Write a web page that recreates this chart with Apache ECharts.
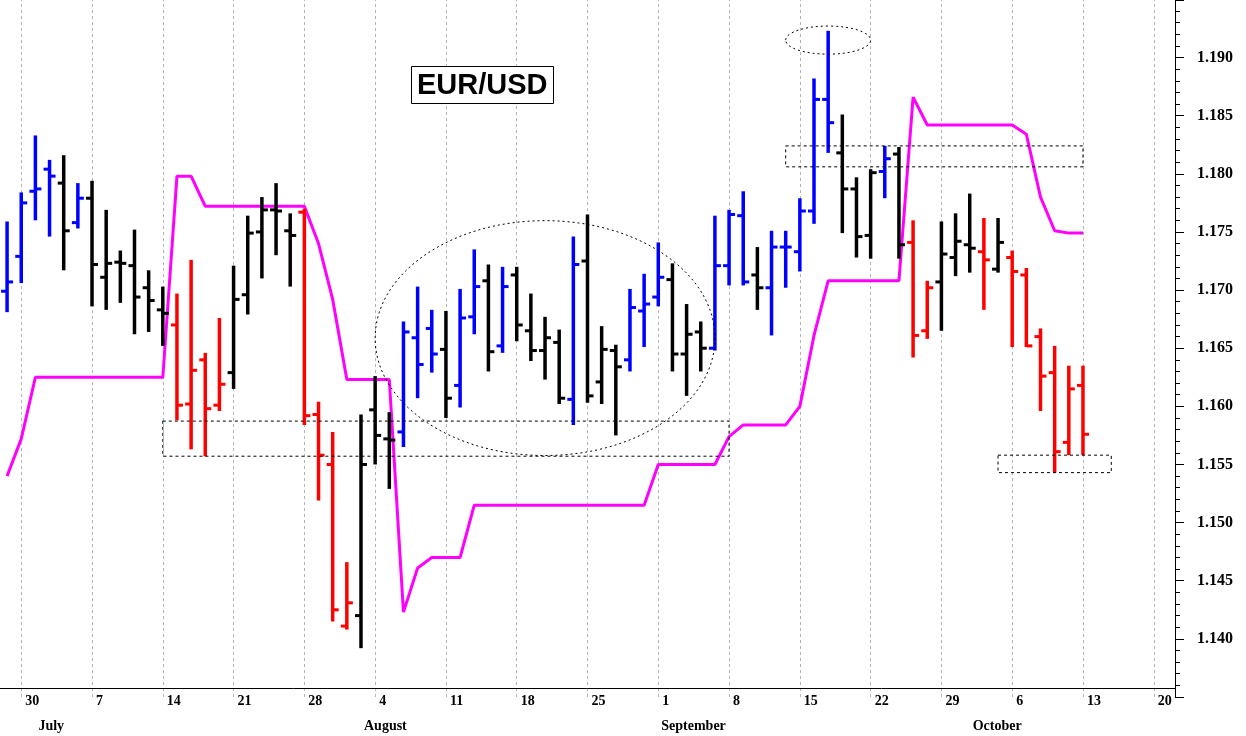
<!DOCTYPE html>
<html><head><meta charset="utf-8">
<script src="https://cdn.jsdelivr.net/npm/echarts@6/dist/echarts.min.js"></script>
<style>html,body{margin:0;padding:0;background:#fff}#c{width:1246px;height:736px}</style>
</head><body><div id="c"></div>
<script>
const dates = ['06-27','06-30','07-01','07-02','07-03','07-04','07-07','07-08','07-09','07-10','07-11','07-14','07-15','07-16','07-17','07-18','07-21','07-22','07-23','07-24','07-25','07-28','07-29','07-30','07-31','08-01','08-04','08-05','08-06','08-07','08-08','08-11','08-12','08-13','08-14','08-15','08-18','08-19','08-20','08-21','08-22','08-25','08-26','08-27','08-28','08-29','09-01','09-02','09-03','09-04','09-05','09-08','09-09','09-10','09-11','09-12','09-15','09-16','09-17','09-18','09-19','09-22','09-23','09-24','09-25','09-26','09-29','09-30','10-01','10-02','10-03','10-06','10-07','10-08','10-09','10-10','10-13','10-14','10-15','10-16','10-17','10-20','10-21'];
const openP  = [1.1699,1.1729,1.1785,1.1804,1.1792,1.1758,1.1779,1.1711,1.1724,1.1721,1.1702,1.1683,1.1670,1.1602,1.1640,1.1601,1.1629,1.1696,1.1750,1.1769,1.1751,1.1767,1.1593,1.1550,1.1411,1.1420,1.1597,1.1572,1.1578,1.1659,1.1667,1.1649,1.1618,1.1677,1.1708,1.1652,1.1713,1.1665,1.1648,1.1655,1.1606,1.1725,1.1621,1.1648,1.1640,1.1682,1.1694,1.1709,1.1645,1.1664,1.1650,1.1721,1.1764,1.1713,1.1702,1.1737,1.1733,1.1768,1.1864,1.1818,1.1787,1.1747,1.1802,1.1817,1.1741,1.1665,1.1707,1.1728,1.1739,1.1733,1.1718,1.1728,1.1713,1.1660,1.1629,1.1569,1.1618];
const closeP = [1.1707,1.1775,1.1787,1.1798,1.1751,1.1779,1.1722,1.1723,1.1723,1.1694,1.1691,1.1680,1.1601,1.1631,1.1598,1.1619,1.1692,1.1749,1.1769,1.1768,1.1747,1.1592,1.1558,1.1425,1.1431,1.1550,1.1575,1.1571,1.1664,1.1636,1.1645,1.1607,1.1676,1.1703,1.1647,1.1703,1.1670,1.1648,1.1659,1.1607,1.1722,1.1609,1.1649,1.1634,1.1685,1.1688,1.1711,1.1645,1.1662,1.1650,1.1721,1.1765,1.1707,1.1702,1.1737,1.1737,1.1768,1.1864,1.1844,1.1787,1.1746,1.1801,1.1813,1.1739,1.1661,1.1702,1.1731,1.1742,1.1736,1.1726,1.1741,1.1716,1.1652,1.1626,1.1561,1.1615,1.1576];
const lowP   = [1.1681,1.1706,1.1760,1.1746,1.1717,1.1753,1.1686,1.1683,1.1689,1.1662,1.1664,1.1652,1.1588,1.1563,1.1557,1.1596,1.1615,1.1679,1.1710,1.1730,1.1703,1.1584,1.1519,1.1415,1.1408,1.1392,1.1550,1.1529,1.1565,1.1607,1.1629,1.1590,1.1599,1.1662,1.1630,1.1646,1.1656,1.1639,1.1623,1.1602,1.1584,1.1603,1.1602,1.1575,1.1630,1.1651,1.1686,1.1630,1.1609,1.1630,1.1648,1.1704,1.1704,1.1683,1.1661,1.1702,1.1716,1.1757,1.1818,1.1749,1.1728,1.1727,1.1779,1.1727,1.1642,1.1658,1.1665,1.1712,1.1715,1.1683,1.1715,1.1651,1.1651,1.1596,1.1543,1.1558,1.1558];
const highP  = [1.1759,1.1784,1.1833,1.1812,1.1816,1.1792,1.1794,1.1769,1.1734,1.1752,1.1717,1.1703,1.1697,1.1726,1.1646,1.1676,1.1721,1.1764,1.1780,1.1792,1.1766,1.1770,1.1604,1.1578,1.1466,1.1593,1.1626,1.1595,1.1673,1.1703,1.1683,1.1682,1.1701,1.1735,1.1722,1.1720,1.1720,1.1697,1.1677,1.1666,1.1746,1.1765,1.1669,1.1653,1.1701,1.1714,1.1741,1.1723,1.1688,1.1673,1.1764,1.1769,1.1785,1.1737,1.1751,1.1751,1.1779,1.1882,1.1923,1.1851,1.1797,1.1804,1.1824,1.1823,1.1760,1.1708,1.1759,1.1766,1.1783,1.1762,1.1762,1.1734,1.1719,1.1667,1.1652,1.1635,1.1635];
const barColors = 'bbbbkbkkkkkkrrrrkkkkkrrrrkkkbbbkbbkbkkkkbkkkbbbkkkbbbkbbbbbkkkbkrrkkkrkrrrrrr';
const stopLine = [1.1540,1.1572,1.1625,1.1625,1.1625,1.1625,1.1625,1.1625,1.1625,1.1625,1.1625,1.1625,1.1798,1.1798,1.1772,1.1772,1.1772,1.1772,1.1772,1.1772,1.1772,1.1772,1.1740,1.1692,1.1623,1.1623,1.1623,1.1623,1.1423,1.1461,1.1470,1.1470,1.1470,1.1515,1.1515,1.1515,1.1515,1.1515,1.1515,1.1515,1.1515,1.1515,1.1515,1.1515,1.1515,1.1515,1.1550,1.1550,1.1550,1.1550,1.1550,1.1574,1.1584,1.1584,1.1584,1.1584,1.1600,1.1661,1.1708,1.1708,1.1708,1.1708,1.1708,1.1708,1.1866,1.1842,1.1842,1.1842,1.1842,1.1842,1.1842,1.1842,1.1834,1.1780,1.1751,1.1749,1.1749];
const monthNames = {'07':'July','08':'August','09':'September','10':'October'};
// annotations: [x0 idx, x1 idx, price0, price1]
const boxes = [[11.1,50.9,1.15873,1.15571],[55.0,75.9,1.1824,1.1806],[69.9,77.9,1.1558,1.1543]];
// ellipses: [center idx, center price, radius idx, radius price]
const ellipses = [[38.45,1.16587,11.5,0.0101],[57.9,1.1915,2.93,0.00121]];

const colMap = {b:'#0000ff',k:'#000000',r:'#ff0000'};
const ohlc = openP.map((o,i)=>[i,o,closeP[i],lowP[i],highP[i]]);
const mondays = dates.map((d,i)=>i%5===1?d:null).filter(d=>d);
const isMonthStart = i => i>0 && dates[i].slice(0,2)!==dates[i-1].slice(0,2);
const serif = 'Liberation Serif';

const chart = echarts.init(document.getElementById('c'));
chart.setOption({
  animation:false,
  backgroundColor:'#fff',
  title:{text:'EUR/USD',left:411,top:66,padding:[5,6,4,6],borderColor:'#000',borderWidth:1,backgroundColor:'#fff',
    textStyle:{fontFamily:'Liberation Sans',fontWeight:'bold',fontSize:29,color:'#000'}},
  grid:{left:0,right:71,top:0,bottom:39},
  xAxis:[{type:'category',data:dates,boundaryGap:true,offset:-9,
    axisLine:{lineStyle:{color:'#000',width:1}},
    axisTick:{alignWithLabel:true,interval:(i)=>i%5===1,length:22,lineStyle:{color:'#000'}},
    axisLabel:{interval:(i)=>i%5===1,formatter:v=>String(parseInt(v.slice(3),10)),align:'left',padding:[0,0,0,4],margin:6,
      fontFamily:serif,fontWeight:'bold',fontSize:14,color:'#000'},
    splitLine:{show:false}},
   {type:'category',data:dates,boundaryGap:true,position:'bottom',offset:-9,
    axisLine:{show:false},
    axisTick:{alignWithLabel:true,interval:(i)=>isMonthStart(i),length:48,lineStyle:{color:'#000'}},
    axisLabel:{interval:(i)=>isMonthStart(i),formatter:v=>monthNames[v.slice(0,2)]||'',align:'left',padding:[0,0,0,3],margin:31,
      fontFamily:serif,fontWeight:'bold',fontSize:14,color:'#000'},
    splitLine:{show:false}}],
  yAxis:{type:'value',position:'right',min:1.135,max:1.19495,interval:0.005,
    axisLine:{show:true,lineStyle:{color:'#000'}},
    axisTick:{show:true,length:9,lineStyle:{color:'#000'}},
    minorTick:{show:true,splitNumber:5,length:5,lineStyle:{color:'#000'}},
    axisLabel:{showMinLabel:false,showMaxLabel:false,formatter:v=>v.toFixed(3),margin:22,
      fontFamily:serif,fontWeight:'bold',fontSize:16,color:'#000'},
    splitLine:{show:false}},
  series:[
    {type:'line',data:[],z:0,markLine:{silent:true,z:0,symbol:'none',label:{show:false},
      lineStyle:{color:'#b4b4b4',type:[3,3],width:1},data:mondays.map(d=>({xAxis:d}))}},
    {type:'line',data:stopLine,symbol:'none',lineStyle:{color:'#ff00ff',width:3},z:3},
    {type:'custom',z:4,data:ohlc,encode:{x:0,y:[1,2,3,4]},
      renderItem:(params,api)=>{
        const i=api.value(0);
        const pO=api.coord([i,api.value(1)]),pC=api.coord([i,api.value(2)]);
        const pL=api.coord([i,api.value(3)]),pH=api.coord([i,api.value(4)]);
        const c=colMap[barColors[i]];
        return {type:'group',children:[
          {type:'line',shape:{x1:pH[0],y1:pH[1],x2:pL[0],y2:pL[1]},style:{stroke:c,lineWidth:3.5}},
          {type:'line',shape:{x1:pO[0]-6,y1:pO[1],x2:pO[0],y2:pO[1]},style:{stroke:c,lineWidth:3}},
          {type:'line',shape:{x1:pC[0],y1:pC[1],x2:pC[0]+6,y2:pC[1]},style:{stroke:c,lineWidth:3}}]};
      }},
    {type:'custom',z:5,data:boxes,silent:true,
      renderItem:(params,api)=>{
        const b=boxes[params.dataIndex];
        const a=api.coord([b[0],b[2]]),z=api.coord([b[1],b[3]]);
        return {type:'rect',shape:{x:a[0],y:a[1],width:z[0]-a[0],height:z[1]-a[1]},
          style:{fill:null,stroke:'#000',lineWidth:1,lineDash:[3,3]}};
      }},
    {type:'custom',z:5,data:ellipses,silent:true,
      renderItem:(params,api)=>{
        const e=ellipses[params.dataIndex];
        const c=api.coord([e[0],e[1]]),r=api.coord([e[0]+e[2],e[1]+e[3]]);
        return {type:'ellipse',shape:{cx:c[0],cy:c[1],rx:Math.abs(r[0]-c[0]),ry:Math.abs(c[1]-r[1])},
          style:{fill:null,stroke:'#000',lineWidth:1,lineDash:[2,3]}};
      }}
  ]
});
</script></body></html>
